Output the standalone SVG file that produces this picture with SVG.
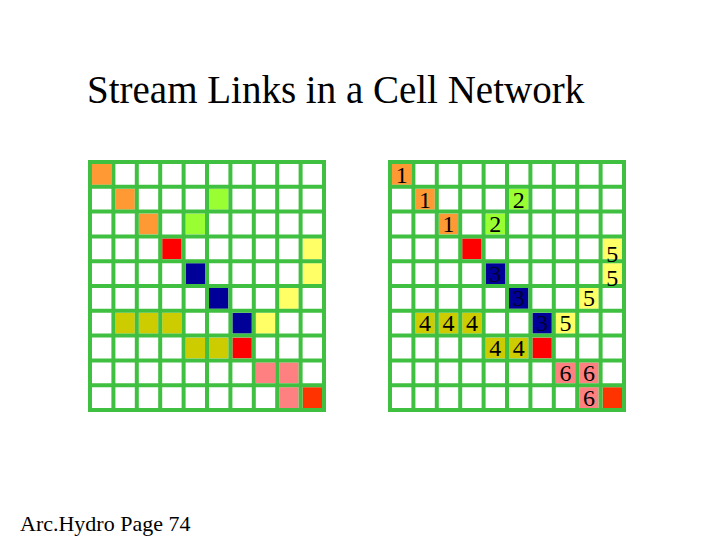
<svg xmlns="http://www.w3.org/2000/svg" width="720" height="540" viewBox="0 0 720 540">
<style>
.g{fill:none;stroke:#40C040;stroke-width:4}
.n{font-family:"Liberation Serif",serif;font-size:24px;fill:#000;text-anchor:middle}
.o{fill:#FF9933}.lg{fill:#99FF33}.r{fill:#FF0000}.b{fill:#000099}.y{fill:#FFFF66}.ol{fill:#CCCC00}.p{fill:#FF8080}.or{fill:#FF3300}
</style>
<defs>
<g id="grid">
<rect x="0" y="0" width="234" height="248" class="g"/>
<path class="g" d="M23.4 0V248M46.8 0V248M70.2 0V248M93.6 0V248M117 0V248M140.4 0V248M163.8 0V248M187.2 0V248M210.6 0V248M0 24.8H234M0 49.6H234M0 74.4H234M0 99.2H234M0 124H234M0 148.8H234M0 173.6H234M0 198.4H234M0 223.2H234"/>
</g>
<g id="cells">
<rect class="o" x="2" y="2" width="19.4" height="20.8"/>
<rect class="o" x="25.4" y="26.8" width="19.4" height="20.8"/>
<rect class="o" x="48.8" y="51.6" width="19.4" height="20.8"/>
<rect class="lg" x="119" y="26.8" width="19.4" height="20.8"/>
<rect class="lg" x="95.6" y="51.6" width="19.4" height="20.8"/>
<rect class="r" x="72.2" y="76.4" width="19.4" height="20.8"/>
<rect class="r" x="142.4" y="175.6" width="19.4" height="20.8"/>
<rect class="b" x="95.6" y="101.2" width="19.4" height="20.8"/>
<rect class="b" x="119" y="126" width="19.4" height="20.8"/>
<rect class="b" x="142.4" y="150.8" width="19.4" height="20.8"/>
<rect class="y" x="212.6" y="76.4" width="19.4" height="20.8"/>
<rect class="y" x="212.6" y="101.2" width="19.4" height="20.8"/>
<rect class="y" x="189.2" y="126" width="19.4" height="20.8"/>
<rect class="y" x="165.8" y="150.8" width="19.4" height="20.8"/>
<rect class="ol" x="25.4" y="150.8" width="19.4" height="20.8"/>
<rect class="ol" x="48.8" y="150.8" width="19.4" height="20.8"/>
<rect class="ol" x="72.2" y="150.8" width="19.4" height="20.8"/>
<rect class="ol" x="95.6" y="175.6" width="19.4" height="20.8"/>
<rect class="ol" x="119" y="175.6" width="19.4" height="20.8"/>
<rect class="p" x="165.8" y="200.4" width="19.4" height="20.8"/>
<rect class="p" x="189.2" y="200.4" width="19.4" height="20.8"/>
<rect class="p" x="189.2" y="225.2" width="19.4" height="20.8"/>
<rect class="or" x="212.6" y="225.2" width="19.4" height="20.8"/>
</g>
</defs>
<rect width="720" height="540" fill="#fff"/>
<text x="87" y="103" font-family="Liberation Serif,serif" font-size="39">Stream Links in a Cell Network</text>
<g id="left" transform="translate(90,162)">
<use href="#cells"/><use href="#grid"/>
</g>
<g id="right" transform="translate(390,162)">
<use href="#cells"/><use href="#grid"/>
<g class="n">
<text x="11.7" y="21">1</text>
<text x="35.1" y="46">1</text>
<text x="58.5" y="70">1</text>
<text x="128.7" y="46">2</text>
<text x="105.3" y="70">2</text>
<text x="105.3" y="120" fill="#000033">3</text>
<text x="128.7" y="144" fill="#000033">3</text>
<text x="152.1" y="169" fill="#000033">3</text>
<text x="222.3" y="100">5</text>
<text x="222.3" y="124">5</text>
<text x="198.9" y="144">5</text>
<text x="175.5" y="169">5</text>
<text x="35.1" y="169">4</text>
<text x="58.5" y="169">4</text>
<text x="81.9" y="169">4</text>
<text x="105.3" y="194">4</text>
<text x="128.7" y="194">4</text>
<text x="175.5" y="219">6</text>
<text x="198.9" y="219">6</text>
<text x="198.9" y="244">6</text>
</g>
</g>
<text x="20" y="531" font-family="Liberation Serif,serif" font-size="22">Arc.Hydro Page 74</text>
</svg>
